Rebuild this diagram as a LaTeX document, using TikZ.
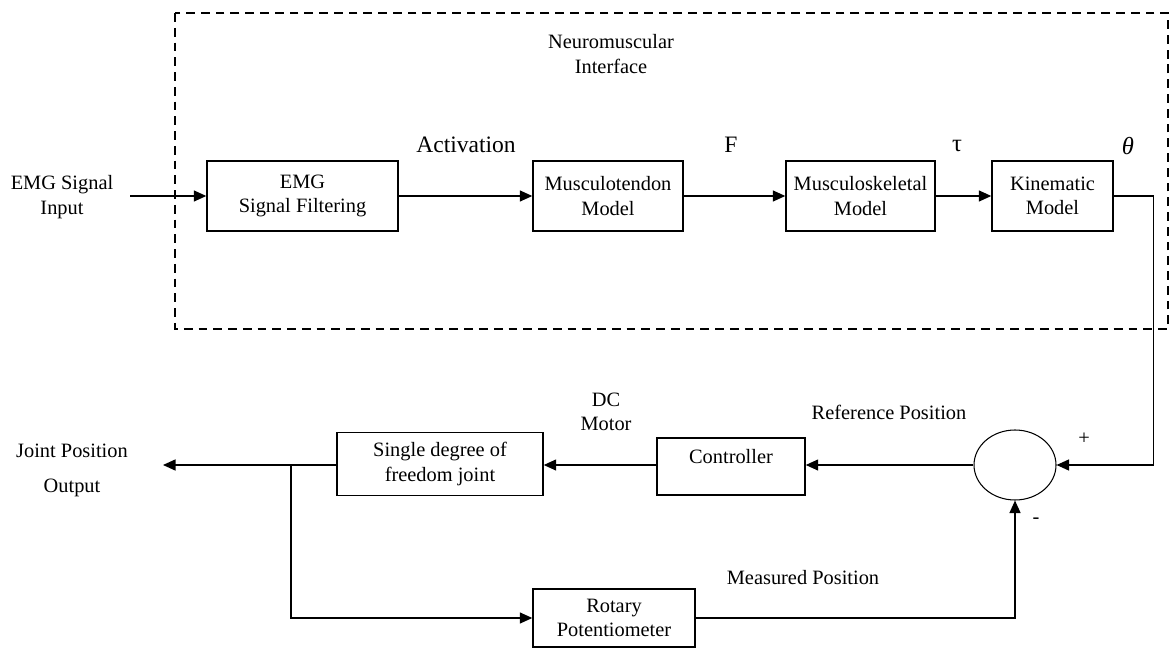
\documentclass[tikz,border=0pt]{standalone}
\usepackage{fontspec}
\setmainfont{Liberation Serif}
\usetikzlibrary{arrows.meta,shapes.geometric}
\begin{document}
\begin{tikzpicture}[x=0.2mm,y=-0.2mm,font=\fontsize{11.6}{14}\selectfont]
	\tikzstyle{Block} = [rectangle, draw, line width=0.8pt, align=center, inner sep=2pt]
	\tikzstyle{Sum} = [ellipse, draw, line width=0.6pt, minimum width=16.4mm, minimum height=14mm, inner sep=0pt]
	\tikzstyle{Arrow} = [line width=0.8pt, -{Triangle[length=2.5mm,width=2.2mm]}]
	\useasboundingbox (0,0) rectangle (1171,648);
	% neuromuscular interface
	\draw [line width=1.1pt, dash pattern=on 5pt off 3.4pt] (175,13) rectangle (1168,329);
	\node (nmi) at (611,54) [align=center] {Neuromuscular\\Interface};
	\node (emg) at (302.5,196) [Block, minimum width=38.2mm, minimum height=14mm] {EMG\\Signal Filtering};
	\node (mt) at (608,196) [Block, minimum width=30mm, minimum height=14mm] {Musculotendon\\Model};
	\node (ms) at (860.5,196) [Block, minimum width=29.8mm, minimum height=14mm] {Musculoskeletal\\Model};
	\node (kin) at (1052.5,196) [Block, minimum width=24.2mm, minimum height=14mm] {Kinematic\\Model};
	\node (inlab) at (62,197) [align=center] {EMG Signal\\Input};
	\coordinate (in) at (130,196);
	\node (act) at (466,145) [font=\fontsize{13.4}{16}\selectfont] {Activation};
	\node (force) at (731,145) [font=\fontsize{13.4}{16}\selectfont] {F};
	\node (torque) at (957,146) [font=\fontsize{14}{16}\selectfont] {τ};
	\node (angle) at (1128,146) [font=\fontsize{14}{16}\selectfont] {\textit{θ}};
	% position loop
	\node (sum) at (1015,465) [Sum] {};
	\node (ctrl) at (731,466.5) [Block, minimum width=29.6mm, minimum height=11.4mm, label={[yshift=1.9mm]center:Controller}] {};
	\node (sdof) at (440,464) [Block, minimum width=41.2mm, minimum height=12.6mm] {Single degree of\\freedom joint};
	\node (rot) at (614,618) [Block, minimum width=32.4mm, minimum height=11.6mm] {Rotary\\Potentiometer};
	\node (outlab) at (72,470) [align=center] {Joint Position\\[6pt]Output};
	\coordinate (out) at (163,465);
	\coordinate (br) at (291,465);
	\node (dcm) at (606,412) [align=center] {DC\\Motor};
	\node (refpos) at (889,412) {Reference Position};
	\node (measpos) at (803,578) {Measured Position};
	\node (plus) at (1084,439) {+};
	\node (minus) at (1036,521) {-};
	\draw [Arrow] (in) to (emg.west);
	\draw [Arrow] (emg) to (mt);
	\draw [Arrow] (mt) to (ms);
	\draw [Arrow] (ms) to (kin);
	\draw [Arrow] (kin.east) -- ++(40,0) |- (sum.east);
	\draw [Arrow] (sum.west) to (ctrl.east |- sum.west);
	\draw [Arrow] (ctrl.west |- sum.west) to (sdof.east |- sum.west);
	\draw [Arrow] (sdof.west |- out) to (out);
	\draw [Arrow] (br) |- (rot.west);
	\draw [Arrow] (rot.east) -| (sum.south);
\end{tikzpicture}
\end{document}
